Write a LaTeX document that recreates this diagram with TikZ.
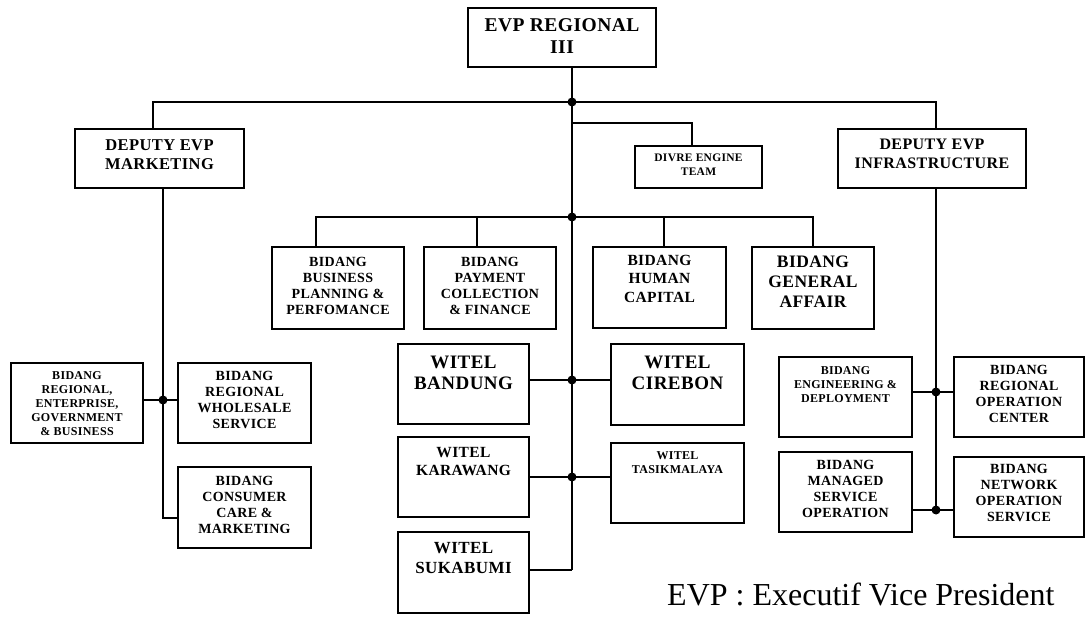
\documentclass[tikz,border=0pt]{standalone}
\usepackage{fontspec}
\setmainfont{Liberation Serif}
\newfontfamily\boxfont[LetterSpace=2.5]{Liberation Serif}
\tikzset{
  box/.style={draw, line width=2pt, inner sep=0pt, fill=white},
  lbl/.style={align=center, inner sep=0pt},
  conn/.style={line width=2pt},
  dot/.style={fill=black}
}
\newcommand\obox[9]{%
  \node[box, minimum width={#4-#2}, minimum height={#5-#3}] (#1) at ({(#2+#4)/2},{(#3+#5)/2}) {};
  \node[lbl, font=\boxfont\fontsize{#6}{#7}\selectfont\bfseries, anchor=north] (#1t) at ({(#2+#4)/2},{#8-0.34*#6}) {#9};
}
\begin{document}
\begin{tikzpicture}[x=1pt, y=-1pt]
\useasboundingbox (0,0) rectangle (1086,617);
% coordinates of junctions
\coordinate (j1) at (572,102);
\coordinate (jd) at (572,123);
\coordinate (dv) at (692,146);
\coordinate (j2) at (572,217);
\coordinate (j3) at (572,380);
\coordinate (j4) at (572,477);
\coordinate (jend) at (572,570);
\coordinate (mk) at (153,129);
\coordinate (ik) at (936,129);
\coordinate (t1) at (316,247);
\coordinate (t2) at (477,247);
\coordinate (t3) at (664,247);
\coordinate (t4) at (813,247);
\coordinate (m1) at (163,400);
\coordinate (m2) at (163,518);
\coordinate (i1) at (936,392);
\coordinate (i2) at (936,510);
% connectors (drawn first, boxes on top)
\draw[conn] (j1 |- 0,67) -- (jend);
\draw[conn] (mk) |- (j1) -| (ik);
\draw[conn] (jd) -| (dv);
\draw[conn] (t1) |- (j2) -| (t4);
\draw[conn] (t2) -- (t2 |- j2);
\draw[conn] (t3) -- (t3 |- j2);
\draw[conn] (529,380) -- (611,380);
\draw[conn] (529,477) -- (611,477);
\draw[conn] (529,570) -- (jend);
\draw[conn] (163,188) -- (m2) -- (178,518);
\draw[conn] (143,400) -- (178,400);
\draw[conn] (936,188) -- (i2);
\draw[conn] (912,392) -- (954,392);
\draw[conn] (912,510) -- (954,510);
% boxes
\obox{evp}{468}{8}{656}{67}{19.5}{22}{25}{EVP REGIONAL\\III}
\obox{dmkt}{75}{129}{244}{188}{16.5}{19}{145}{DEPUTY EVP\\MARKETING}
\obox{dinf}{838}{129}{1026}{188}{16}{19}{144}{DEPUTY EVP\\INFRASTRUCTURE}
\obox{divre}{635}{146}{762}{188}{11.5}{14}{158}{DIVRE ENGINE\\TEAM}
\obox{bbp}{272}{247}{404}{329}{14}{16}{262}{BIDANG\\BUSINESS\\PLANNING \&\\PERFOMANCE}
\obox{bpay}{424}{247}{556}{329}{14}{16}{262}{BIDANG\\PAYMENT\\COLLECTION\\\& FINANCE}
\obox{bhc}{593}{247}{726}{328}{15.5}{18.5}{260}{BIDANG\\HUMAN\\CAPITAL}
\obox{bga}{752}{247}{874}{329}{17.5}{20}{262}{BIDANG\\GENERAL\\AFFAIR}
\obox{breg}{11}{363}{143}{443}{12}{14}{375}{BIDANG\\REGIONAL,\\ENTERPRISE,\\GOVERNMENT\\\& BUSINESS}
\obox{bws}{178}{363}{311}{443}{14}{16}{376}{BIDANG\\REGIONAL\\WHOLESALE\\SERVICE}
\obox{bcc}{178}{467}{311}{548}{14}{16}{481}{BIDANG\\CONSUMER\\CARE \&\\MARKETING}
\obox{wbdg}{398}{344}{529}{424}{19}{21}{362}{WITEL\\BANDUNG}
\obox{wcrb}{611}{344}{744}{425}{19}{21}{362}{WITEL\\CIREBON}
\obox{wkrw}{398}{437}{529}{517}{15.5}{18}{452}{WITEL\\KARAWANG}
\obox{wtsk}{611}{443}{744}{523}{12}{13.5}{456}{WITEL\\TASIKMALAYA}
\obox{wskb}{398}{532}{529}{613}{17}{20}{548}{WITEL\\SUKABUMI}
\obox{beng}{779}{357}{912}{437}{12}{14}{370}{BIDANG\\ENGINEERING \&\\DEPLOYMENT}
\obox{broc}{954}{357}{1084}{437}{14}{16}{370}{BIDANG\\REGIONAL\\OPERATION\\CENTER}
\obox{bmso}{779}{452}{912}{532}{14}{16}{465}{BIDANG\\MANAGED\\SERVICE\\OPERATION}
\obox{bnos}{954}{457}{1084}{537}{14}{16}{469}{BIDANG\\NETWORK\\OPERATION\\SERVICE}
% junction dots
\fill[dot] (j1) circle[radius=4.5pt];
\fill[dot] (j2) circle[radius=4.5pt];
\fill[dot] (j3) circle[radius=4.5pt];
\fill[dot] (j4) circle[radius=4.5pt];
\fill[dot] (m1) circle[radius=4.5pt];
\fill[dot] (i1) circle[radius=4.5pt];
\fill[dot] (i2) circle[radius=4.5pt];
% legend
\node[anchor=base west, inner sep=0pt, font=\fontsize{32}{36}\selectfont] (legend) at (667,605) {EVP : Executif Vice President};
\end{tikzpicture}
\end{document}
